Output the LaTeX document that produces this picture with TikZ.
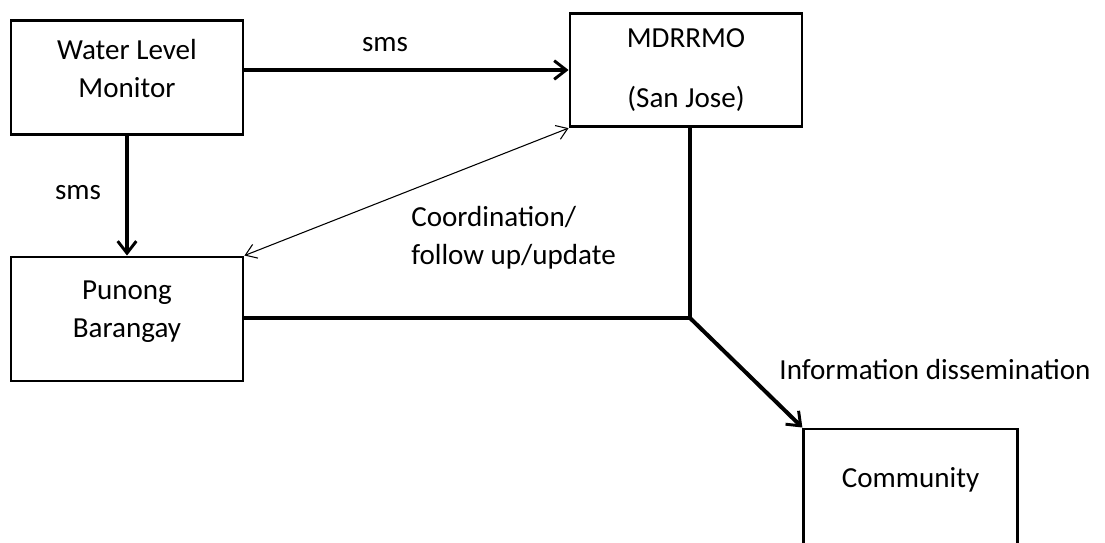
\documentclass[tikz,border=0pt]{standalone}
\usepackage{fontspec}
\setmainfont{Carlito}
\usetikzlibrary{arrows.meta}

\begin{document}
\begin{tikzpicture}[
    x=0.75pt, y=-0.75pt,
    font=\fontsize{21.8}{28.5}\selectfont,
    box/.style={draw=black, line width=2.2pt, align=center, inner sep=0pt},
    thickarr/.style={-{Straight Barb[length=9pt, width=14pt, line width=2.2pt]}, line width=3pt},
    thinarr/.style={{Straight Barb[length=8pt, width=11pt]}-{Straight Barb[length=8pt, width=11pt]}, line width=0.8pt},
    thickline/.style={line width=3pt},
    lbl/.style={align=left, inner sep=0pt}
  ]
    \useasboundingbox (0,0) rectangle (1105,542);
    % boxes
    \node[box, minimum width=174pt, minimum height=86pt, text depth=14pt] (wlm) at (127,77.5) {Water Level\\Monitor};
    \node[box, minimum width=174pt, minimum height=85pt] (mdrrmo) at (686,70) {MDRRMO\\[16pt](San Jose)};
    \node[box, minimum width=174pt, minimum height=93pt, text depth=14pt] (punong) at (127,319) {Punong\\Barangay};
    \node[box, minimum width=160pt, minimum height=90pt, text depth=18pt] (comm) at (910.5,489) {Community};
    \coordinate (join) at (690,318);
    % connectors
    \draw[thickarr] (wlm.east |- mdrrmo.west) -- (mdrrmo.west);
    \draw[thickarr] (wlm.south) -- (punong.north);
    \draw[thinarr] (punong.north east) -- (mdrrmo.south west);
    \draw[thickline] (join |- mdrrmo.south) -- (join);
    \draw[thickline] (punong.east |- join) -- (join);
    \draw[thickarr] (join) -- (comm.north west);
    % labels
    \node[lbl] (smsa) at (385,45) {sms};
    \node[lbl] (smsb) at (78,193) {sms};
    \node[lbl, anchor=west] (coord) at (411,238) {Coordination/\\follow up/update};
    \node[lbl] (info) at (935,370) {Information dissemination};
\end{tikzpicture}
\end{document}
